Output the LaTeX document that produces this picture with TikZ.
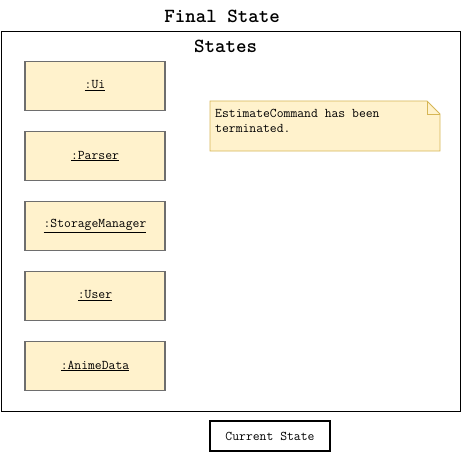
\documentclass[tikz,border=0pt]{standalone}
\usepackage{fontspec}
\usetikzlibrary{shapes.misc}
\definecolor{objfill}{HTML}{FFF2CC}
\definecolor{objdraw}{HTML}{6E6E6E}
\definecolor{notedraw}{HTML}{D6B656}
\tikzset{
  objbox/.style={draw=objdraw, line width=1.6pt, fill=objfill, minimum width=140pt, minimum height=49pt, inner sep=0pt, font=\ttfamily\fontsize{13.3}{15}\selectfont},
  titletext/.style={font=\ttfamily\bfseries\fontsize{20}{22}\selectfont, inner sep=0pt},
  notetext/.style={font=\ttfamily\fontsize{13.3}{15.5}\selectfont, inner sep=0pt, align=left, anchor=north west},
}
\begin{document}
\begin{tikzpicture}[x=1pt,y=-1pt]
\useasboundingbox (0,0) rectangle (461,452);
\node[titletext] (title) at (222,16) {Final State};
\node[draw=black, line width=1.2pt, minimum width=459.5pt, minimum height=380pt, inner sep=0pt, anchor=north west] (frame) at (0.6,31) {};
\node[titletext] (states) at (225.5,46) {States};
\node[objbox] (ui) at (95,86) {\underline{:Ui}};
\node[objbox] (parser) at (95,156) {\underline{:Parser}};
\node[objbox] (storage) at (95,226) {\underline{:StorageManager}};
\node[objbox] (user) at (95,296) {\underline{:User}};
\node[objbox] (anime) at (95,366) {\underline{:AnimeData}};
\draw[draw=notedraw, fill=objfill, line width=0.8pt] (210,101) -- (427,101) -- (440,114) -- (440,151) -- (210,151) -- cycle;
\draw[draw=notedraw, line width=0.8pt] (427,101) -- (427,114) -- (440,114);
\node[notetext] (note) at (215,109) {EstimateCommand has been\\terminated.};
\node[draw=black, line width=1.2pt, minimum width=120pt, minimum height=30pt, inner sep=0pt, font=\ttfamily\fontsize{13.3}{15}\selectfont] (cur) at (270,436) {Current State};
\end{tikzpicture}
\end{document}
